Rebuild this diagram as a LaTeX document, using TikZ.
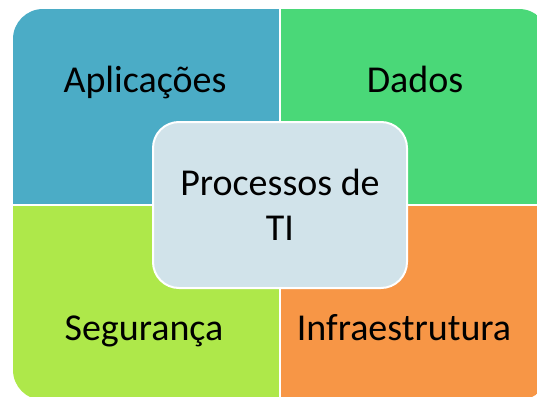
\documentclass[tikz,border=0pt]{standalone}
\usepackage{fontspec}
\setmainfont{Carlito}
\usepackage{tikz}

\definecolor{appblue}{HTML}{4BACC6}
\definecolor{dadosgreen}{HTML}{4AD878}
\definecolor{seglime}{HTML}{AEE84A}
\definecolor{infraorange}{HTML}{F79646}
\definecolor{procblue}{HTML}{D1E3EA}

\begin{document}
\begin{tikzpicture}[x=1pt, y=-1pt,
    quadlabel/.style={anchor=base, font=\fontsize{38}{46}\selectfont},
    procbox/.style={draw=white, line width=2pt, fill=procblue, rounded corners=26pt,
        minimum width=254pt, minimum height=166pt, align=center,
        font=\fontsize{38}{45}\selectfont}]
    \useasboundingbox (0,0) rectangle (537,396);
%%   quadrants
    \begin{scope}
        \clip (0,0) rectangle (537,396);
        \clip[rounded corners=30pt] (13,9) rectangle (549,400);
        \fill[appblue] (13,9) rectangle (280,205);
        \fill[dadosgreen] (280,9) rectangle (549,205);
        \fill[seglime] (13,205) rectangle (280,400);
        \fill[infraorange] (280,205) rectangle (549,400);
        \draw[white, line width=2.5pt] (280,9) -- (280,400);
        \draw[white, line width=2.5pt] (13,205) -- (549,205);
    \end{scope}
%%   kw   (name)   (x, y)   {text}
    \node[quadlabel] (app)   at (145,92)  {Aplicações};
    \node[quadlabel] (dados) at (415,92)  {Dados};
    \node[quadlabel] (seg)   at (144,340) {Segurança};
    \node[quadlabel] (infra) at (404,340) {Infraestrutura};
    \node[procbox]   (proc)  at (280,205) {Processos de\\TI};
\end{tikzpicture}
\end{document}
